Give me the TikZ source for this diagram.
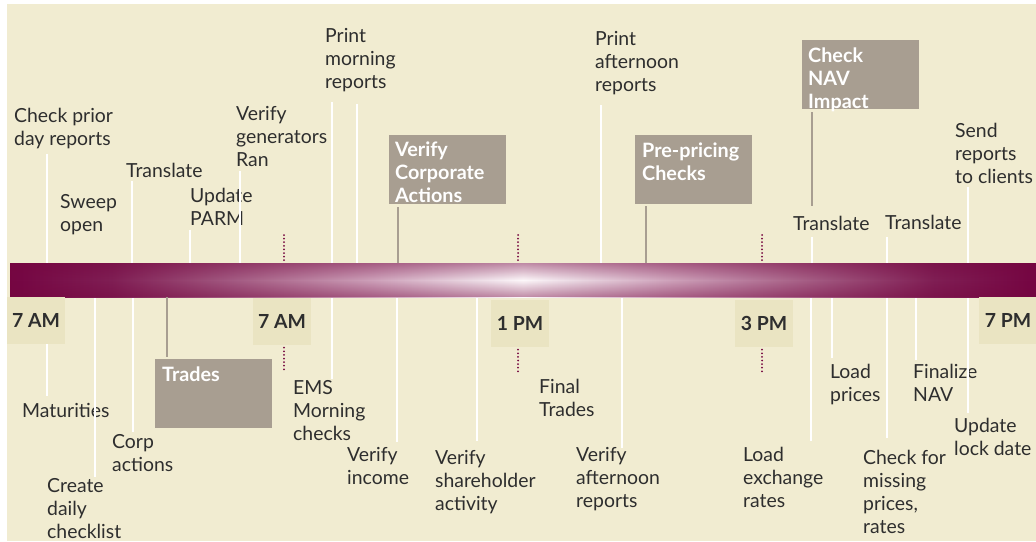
\documentclass[tikz,border=0pt]{standalone}
\usepackage{fontspec}
\setmainfont{Lato}
\usetikzlibrary{fadings}

\definecolor{cream}{HTML}{F1ECD1}
\definecolor{hourbg}{HTML}{EAE4C2}
\definecolor{taupe}{HTML}{A89E91}
\definecolor{plum}{HTML}{75063F}
\definecolor{ink}{HTML}{2E2E2E}

% left-to-right colour of the time bar (path is mapped to 25bp..75bp)
\pgfdeclarehorizontalshading{barshade}{100bp}{
  rgb(0bp)=(0.46,0.02,0.26);
  rgb(25bp)=(0.46,0.02,0.26);
  rgb(30bp)=(0.50,0.12,0.33);
  rgb(37.5bp)=(0.68,0.42,0.56);
  rgb(42.5bp)=(0.80,0.62,0.72);
  rgb(47.5bp)=(0.92,0.85,0.89);
  rgb(50bp)=(0.99,0.97,0.98);
  rgb(52.5bp)=(0.92,0.85,0.89);
  rgb(57.5bp)=(0.80,0.62,0.72);
  rgb(62.5bp)=(0.68,0.42,0.56);
  rgb(70bp)=(0.50,0.12,0.33);
  rgb(75bp)=(0.46,0.02,0.26);
  rgb(100bp)=(0.46,0.02,0.26)}
\tikzfading[name=barfade, top color=transparent!55, bottom color=transparent!55, middle color=transparent!100]

\begin{document}
\begin{tikzpicture}[x=1pt,y=-1pt,
  lbl/.style={anchor=north west,inner sep=0pt,align=left,text=ink,font=\fontsize{19.4}{23}\selectfont},
  boxlbl/.style={lbl,text=white,font=\fontsize{19.8}{23}\selectfont\bfseries},
  hour/.style={fill=hourbg,minimum width=58pt,minimum height=47pt,inner sep=0pt,text=ink,font=\fontsize{19.4}{23}\selectfont\bfseries},
  greybox/.style={anchor=north west,fill=taupe,minimum width=117pt,minimum height=69pt,inner sep=0pt},
  tick/.style={white,line width=2.5pt},
  stem/.style={taupe,line width=2.5pt},
  hourmark/.style={plum,line width=2pt,line cap=round,dash pattern=on 0pt off 3.6pt}]
\useasboundingbox (0,0) rectangle (1036,541);
\fill[white] (0,0) rectangle (1036,541);
\fill[cream] (7,4) rectangle (1036,541);

% points on the bar
\coordinate (bartop) at (0,263);
\coordinate (barbot) at (0,297);

% labels above the bar
\node[lbl] (prior) at (14,108) {Check prior\\day reports};
\node[lbl] (sweep) at (60,194) {Sweep\\open};
\node[lbl] (transA) at (126,163) {Translate};
\node[lbl] (parm) at (190,188) {Update\\PARM};
\node[lbl] (gens) at (236,106) {Verify\\generators\\Ran};
\node[lbl] (printam) at (325,28) {Print\\morning\\reports};
\node[lbl] (printpm) at (595,31) {Print\\afternoon\\reports};
\node[lbl] (transB) at (793,216) {Translate};
\node[lbl] (transC) at (885,215) {Translate};
\node[lbl] (send) at (955,123) {Send\\reports\\to clients};

% labels below the bar
\node[lbl] (matur) at (22,403) {Maturities};
\node[lbl] (daily) at (47,478) {Create\\daily\\checklist};
\node[lbl] (corp) at (112,434) {Corp\\actions};
\node[lbl] (ems) at (293,380) {EMS\\Morning\\checks};
\node[lbl] (income) at (347,447) {Verify\\income};
\node[lbl] (holder) at (435,450) {Verify\\shareholder\\activity};
\node[lbl] (final) at (539,379) {Final\\Trades};
\node[lbl] (verpm) at (576,447) {Verify\\afternoon\\reports};
\node[lbl] (fx) at (743,447) {Load\\exchange\\rates};
\node[lbl] (prices) at (830,364) {Load\\prices};
\node[lbl] (missing) at (863,450) {Check for\\missing\\prices,\\rates};
\node[lbl] (nav) at (913,364) {Finalize\\NAV};
\node[lbl] (lock) at (954,418) {Update\\lock date};

% white ticks above
\coordinate (a1) at (47,263);
\coordinate (a2) at (132,263);
\coordinate (a3) at (190,263);
\coordinate (a4) at (240,263);
\coordinate (a5) at (332,263);
\coordinate (a6) at (357,263);
\coordinate (a7) at (601,263);
\coordinate (a8) at (812,263);
\coordinate (a9) at (887,263);
\coordinate (a10) at (968,263);
\draw[tick] ([yshift=-5pt]prior.south -| a1) -- (a1);
\draw[tick] ([yshift=-3pt]transA.south -| a2) -- (a2);
\draw[tick] ([yshift=-4pt]parm.south -| a3) -- (a3);
\draw[tick] ([yshift=-4pt]gens.south -| a4) -- (a4);
\draw[tick] ([yshift=-10pt]printam.south -| a5) -- (a5);
\draw[tick] ([yshift=-12pt]printam.south -| a6) -- (a6);
\draw[tick] ([yshift=-10pt]printpm.south -| a7) -- (a7);
\draw[tick] ([yshift=-6pt]transB.south -| a8) -- (a8);
\draw[tick] ([yshift=-7pt]transC.south -| a9) -- (a9);
\draw[tick] ([yshift=-3pt]send.south -| a10) -- (a10);

% white ticks below
\coordinate (b1) at (47,297);
\coordinate (b2) at (95,297);
\coordinate (b3) at (133,297);
\coordinate (b4) at (332,297);
\coordinate (b5) at (397,297);
\coordinate (b6) at (477,297);
\coordinate (b7) at (622,297);
\coordinate (b8) at (811,297);
\coordinate (b9) at (832,297);
\coordinate (b10) at (887,297);
\coordinate (b11) at (916,297);
\coordinate (b12) at (968,297);
\draw[tick] (b1) -- ([yshift=7pt]matur.north -| b1);
\draw[tick] (b2) -- ([yshift=1pt]daily.north -| b2);
\draw[tick] (b3) -- ([yshift=2pt]corp.north -| b3);
\draw[tick] (b4) -- ([yshift=1pt]ems.north -| b4);
\draw[tick] (b5) -- ([yshift=5pt]income.north -| b5);
\draw[tick] (b6) -- ([yshift=9pt]holder.north -| b6);
\draw[tick] (b7) -- ([yshift=-1pt]verpm.north -| b7);
\draw[tick] (b8) -- ([yshift=6pt]fx.north -| b8);
\draw[tick] (b9) -- ([yshift=6pt]prices.north -| b9);
\draw[tick] (b10) -- ([yshift=12pt]missing.north -| b10);
\draw[tick] (b11) -- ([yshift=4pt]nav.north -| b11);
\draw[tick] (b12) -- ([yshift=5pt]lock.north -| b12);

% the time bar
\shade[shading=barshade] (10,263) rectangle (1036,297);
\fill[plum,path fading=barfade] (10,263) rectangle (1036,297);

% hours
\node[hour] (h7am) at (36,320.5) {7 AM};
\node[hour] (h7amb) at (282,321) {7 AM};
\node[hour] (h1pm) at (520,323) {1 PM};
\node[hour] (h3pm) at (764,323) {3 PM};
\node[hour] (h7pm) at (1008,320) {7 PM};
\coordinate (m1) at (284,235);
\coordinate (m2) at (518,235);
\coordinate (m3) at (762,235);
\draw[hourmark] (m1) -- (m1 |- bartop);
\draw[hourmark] (m2) -- (m2 |- bartop);
\draw[hourmark] (m3) -- (m3 |- bartop);
\draw[hourmark] ([yshift=-3pt]h7amb.south -| m1) -- ++(0,23);
\draw[hourmark] ([yshift=-3pt]h1pm.south -| m2) -- ++(0,23);
\draw[hourmark] ([yshift=-3pt]h3pm.south -| m3) -- ++(0,23);

% grey boxes
\node[greybox] (trades) at (155,359) {};
\node[boxlbl] at ([shift={(7pt,-8pt)}]trades.north west) {Trades};
\node[greybox] (corpact) at (389,135) {};
\node[boxlbl] at ([shift={(6pt,-7pt)}]corpact.north west) {Verify\\Corporate\\Actions};
\node[greybox] (prepricing) at (635,135) {};
\node[boxlbl] at ([shift={(7pt,-8pt)}]prepricing.north west) {Pre-pricing\\Checks};
\node[greybox] (impact) at (802,40) {};
\node[boxlbl] at ([shift={(6pt,-8pt)}]impact.north west) {Check\\NAV\\Impact};
\coordinate (s1) at (398,263);
\coordinate (s2) at (646,263);
\coordinate (s3) at (812,0);
\coordinate (s4) at (167,297);
\draw[stem] ([yshift=-3pt]corpact.south -| s1) -- (s1);
\draw[stem] ([yshift=-2pt]prepricing.south -| s2) -- (s2);
\draw[stem] ([yshift=-3pt]impact.south -| s3) -- ([yshift=10pt]transB.north -| s3);
\draw[stem] (s4) -- ([yshift=2pt]trades.north -| s4);
\end{tikzpicture}
\end{document}
